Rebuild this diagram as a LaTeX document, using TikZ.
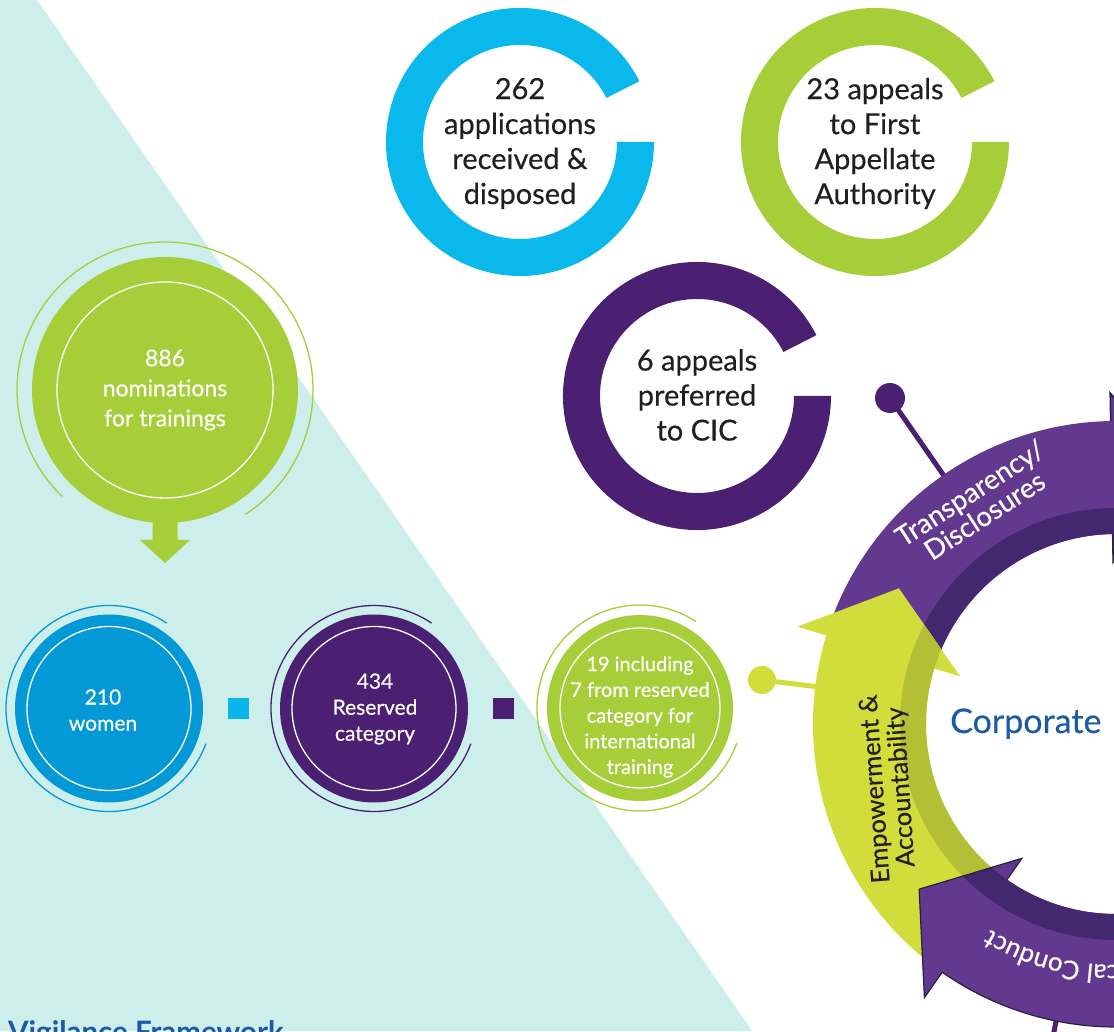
\documentclass[tikz,border=0pt]{standalone}
\usepackage{fontspec}
\setmainfont{Lato}
\newfontfamily\medfont{Lato}[FakeBold=0.4]
\usetikzlibrary{decorations.text}
\definecolor{bgteal}{HTML}{CCEFEC}
\definecolor{ringblue}{HTML}{0BB8EB}
\definecolor{circblue}{HTML}{0399D6}
\definecolor{sqblue}{HTML}{0BB5EA}
\definecolor{grn}{HTML}{A6CE39}
\definecolor{dpur}{HTML}{4B2073}
\definecolor{lpur}{HTML}{63398F}
\definecolor{dkpur}{HTML}{432870}
\definecolor{limec}{HTML}{D0DD3A}
\definecolor{dlime}{HTML}{B3C035}
\definecolor{txtc}{HTML}{231F20}
\definecolor{corpc}{HTML}{1A5AA6}
\definecolor{outl}{HTML}{2A2040}
\begin{document}
\begin{tikzpicture}[x=1pt,y=1pt,
  ringtxt/.style={align=center, text=txtc, inner sep=0, font=\medfont\fontsize{29}{35}\selectfont},
  bigtxt/.style={align=center, text=white, inner sep=0, font=\medfont\fontsize{23}{30}\selectfont},
  smalltxt/.style={align=center, text=white, inner sep=0, font=\medfont\fontsize{21}{26}\selectfont},
  bandtxt/.style={align=center, inner sep=0, font=\medfont\fontsize{27.5}{27}\selectfont},
  disc/.style={circle, inner sep=0, minimum size=#1},
  sq/.style={inner sep=0, minimum size=21pt},
  thinarc/.style={line width=1.3pt},
  conn/.style={line width=5pt}
]
\useasboundingbox (0,0) rectangle (1114,1031);
\clip (0,0) rectangle (1114,1031);
\fill[white] (0,0) rectangle (1114,1031);
\fill[bgteal] (0,1031) -- (37,1031) -- (752,0) -- (0,0) -- cycle;

% ---- top open rings ----
\fill[ringblue] (520,889) ++(27:134pt) arc[start angle=27,end angle=360,radius=134pt] -- ++(-37pt,0) arc[start angle=360,end angle=27,radius=97pt] -- cycle;
\node[ringtxt] (t262) at (520,887.5) {262\\applications\\received \&\\disposed};

\fill[grn] (875,889) ++(27:134pt) arc[start angle=27,end angle=360,radius=134pt] -- ++(-37pt,0) arc[start angle=360,end angle=27,radius=97pt] -- cycle;
\node[ringtxt] (t23) at (875,887.5) {23 appeals\\to First\\Appellate\\Authority};

\fill[dpur] (697,635) ++(27:134pt) arc[start angle=27,end angle=360,radius=134pt] -- ++(-37pt,0) arc[start angle=360,end angle=27,radius=97pt] -- cycle;
\node[ringtxt] (t6) at (697,636) {6 appeals\\preferred\\to CIC};

% ---- big green circle ----
\fill[grn] (152.5,512) -- (152.5,491) -- (140,491) -- (165,468) -- (190,491) -- (177.5,491) -- (177.5,512) -- cycle;
\node[disc=266pt, fill=grn] (c886) at (165,641) {};
\draw[white, thinarc] (c886.center) circle[radius=108pt];
\draw[grn, thinarc] (c886.center) ++(-57:148pt) arc[start angle=-57,end angle=226,radius=148pt];
\node[bigtxt] (t886) at (165,641) {886\\nominations\\for trainings};

% ---- bottom row ----
\node[disc=188pt, fill=circblue] (c210) at (109,322.5) {};
\draw[white, thinarc] (c210.center) circle[radius=82pt];
\draw[circblue, thinarc] (c210.center) ++(56:103pt) arc[start angle=56,end angle=340,radius=103pt];
\node[smalltxt] (t210) at (103,321) {210\\women};

\node[sq, fill=sqblue] (sq1) at (238.5,322.5) {};

\node[disc=188pt, fill=dpur] (c434) at (374,322.5) {};
\draw[white, thinarc] (c434.center) circle[radius=82pt];
\draw[dpur, thinarc] (c434.center) ++(56:103pt) arc[start angle=56,end angle=340,radius=103pt];
\node[smalltxt] (t434) at (375,322) {434\\Reserved\\category};

\node[sq, fill=dpur] (sq2) at (503.5,322.5) {};

\node[disc=186pt, fill=grn] (c19) at (640,323) {};
\draw[white, thinarc] (c19.center) circle[radius=80pt];
\draw[grn, thinarc] (c19.center) ++(57:103pt) arc[start angle=57,end angle=340,radius=103pt];
\node[smalltxt, font=\medfont\fontsize{20}{25.7}\selectfont] (t19) at (640,314) {19 including\\7 from reserved\\category for\\international\\training};

% ---- connectors to the big ring ----
\begin{scope}[shift={(1116,307)}]
  \coordinate (pend) at (124.73:295pt);
  \coordinate (lend) at (172.9:295pt);
  \coordinate (bstart) at (258.6:295pt);
  \coordinate (bend) at (258.6:350pt);
\end{scope}
\node[disc=30pt, fill=dpur] (pdot) at (890,633) {};
\draw[dpur, conn] (pdot.center) -- (pend);
\node[disc=28pt, fill=limec] (ldot) at (762,351) {};
\draw[limec, conn] (ldot.center) -- (lend);
\draw[dpur, conn] (bstart) -- (bend);

% ---- big ring ----
\begin{scope}[shift={(1116,307)}]
  % top purple arrow
  \fill[lpur] (160:303pt) arc[start angle=160,end angle=91,radius=303pt] -- (91:331pt) -- (76:257pt) -- (91:162pt) -- (91:190pt) arc[start angle=91,end angle=160,radius=190pt] -- cycle;
  \begin{scope}
    \clip (160:303pt) arc[start angle=160,end angle=91,radius=303pt] -- (91:331pt) -- (76:257pt) -- (91:162pt) -- (91:190pt) arc[start angle=91,end angle=160,radius=190pt] -- cycle;
    \fill[dkpur, even odd rule] (0,0) circle[radius=216pt] (0,0) circle[radius=190pt];
  \end{scope}
  \draw[outl, line width=1.6pt] (91:303pt) -- (91:331pt) -- (76:257pt) -- (91:162pt) -- (91:190pt);
  % lime arrow
  \fill[limec] (163:303pt) -- (163:333pt) -- (148:256pt) -- (163:163pt) -- (163:190pt) arc[start angle=163,end angle=236,radius=190pt] -- (236:303pt) arc[start angle=236,end angle=163,radius=303pt] -- cycle;
  \begin{scope}
    \clip (163:303pt) -- (163:333pt) -- (148:256pt) -- (163:163pt) -- (163:190pt) arc[start angle=163,end angle=236,radius=190pt] -- (236:303pt) arc[start angle=236,end angle=163,radius=303pt] -- cycle;
    \fill[dlime, even odd rule] (0,0) circle[radius=216pt] (0,0) circle[radius=190pt];
  \end{scope}
  % bottom purple arrow
  \fill[lpur] (235:303pt) -- (235:334pt) -- (220:257pt) -- (235:164pt) -- (235:190pt) arc[start angle=235,end angle=330,radius=190pt] -- (330:303pt) arc[start angle=330,end angle=235,radius=303pt] -- cycle;
  \begin{scope}
    \clip (235:303pt) -- (235:334pt) -- (220:257pt) -- (235:164pt) -- (235:190pt) arc[start angle=235,end angle=330,radius=190pt] -- (330:303pt) arc[start angle=330,end angle=235,radius=303pt] -- cycle;
    \fill[dkpur, even odd rule] (0,0) circle[radius=216pt] (0,0) circle[radius=190pt];
  \end{scope}
  \draw[outl, line width=1.2pt] (235:303pt) -- (235:334pt) -- (220:257pt) -- (235:164pt) -- (235:190pt) (330:303pt) arc[start angle=330,end angle=235,radius=303pt];
  % curved label
  \path[decorate, decoration={text along path, text align=center,
     text={|\medfont\fontsize{26}{30}\selectfont\color{white}|Ethical Conduct}}]
     (300:241pt) arc[start angle=300,end angle=220,radius=241pt];
\end{scope}

\node[bandtxt, text=white, rotate=33] (ttr) at (977,527) {Transparency/\\Disclosures};
\node[bandtxt, text=txtc, rotate=94, font=\medfont\fontsize{25.5}{26}\selectfont] (tem) at (889,243) {Empowerment \&\\Accountability};

\node[anchor=base west, text=corpc, inner sep=0, font=\medfont\fontsize{34}{40}\selectfont] (corp) at (950,298) {Corporate};
\node[anchor=base west, text=corpc, inner sep=0, font=\fontsize{29.5}{34}\selectfont\bfseries] (vig) at (8,-12) {Vigilance Framework};
\end{tikzpicture}
\end{document}
